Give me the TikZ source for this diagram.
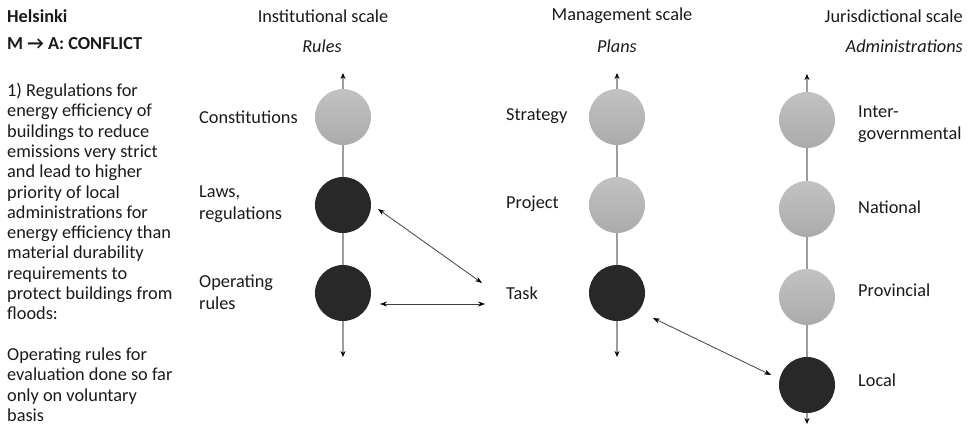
\documentclass[tikz,border=0pt]{standalone}
\usepackage{fontspec}
\setmainfont{Carlito}
\usetikzlibrary{arrows.meta}
\definecolor{lighttop}{HTML}{C2C2C2}
\definecolor{lightbot}{HTML}{ABABAB}
\definecolor{darkc}{HTML}{282828}
\definecolor{linec}{HTML}{9C9C9C}
\definecolor{txt}{HTML}{1A1A1A}
\begin{document}
\begin{tikzpicture}[x=1pt,y=-1pt,
  every node/.style={font=\fontsize{18.3}{22}\selectfont, inner sep=0pt, text=txt},
  lite/.style={circle, minimum size=56pt, top color=lighttop, bottom color=lightbot, draw=none},
  dark/.style={circle, minimum size=56pt, fill=darkc},
  vline/.style={draw=linec, line width=1.2pt},
  vtip/.style={vline, -{Stealth[length=6pt,width=5pt,black]}},
  link/.style={draw=black!75, line width=0.8pt, {Stealth[length=7pt,width=5pt,black]}-{Stealth[length=7pt,width=5pt,black]}},
  lbl/.style={anchor=west, align=left},
  head/.style={anchor=center},
  bold/.style={font=\fontsize{18.3}{22}\selectfont\bfseries},
  ital/.style={font=\fontsize{18.3}{22}\selectfont\itshape},
]
\useasboundingbox (0,0) rectangle (967,428);

% left text
\node[anchor=west, bold] (city) at (7,16) {Helsinki};
\node[anchor=west, bold] (conf) at (7,44) {M → A: CONFLICT};
\node[anchor=north west, align=left, font=\fontsize{18.3}{20.3}\selectfont] (para) at (7,83) {1) Regulations for\\energy efficiency of\\buildings to reduce\\emissions very strict\\and lead to higher\\priority of local\\administrations for\\energy efficiency than\\material durability\\requirements to\\protect buildings from\\floods:\\[20.3pt]Operating rules for\\evaluation done so far\\only on voluntary\\basis};

% headers
\node[head] (h1) at (323,16) {Institutional scale};
\node[head, ital] (s1) at (322,46) {Rules};
\node[head] (h2) at (622,16) {Management scale};
\node[head, ital] (s2) at (617,46) {Plans};
\node[anchor=east] (h3) at (963,16) {Jurisdictional scale};
\node[anchor=east, ital] (s3) at (963,46) {Administrations};

% column 1
\coordinate (t1) at (343,73);
\coordinate (b1) at (343,357);
\node[lite] (c11) at (343,117) {};
\node[dark] (c12) at (343,205) {};
\node[dark] (c13) at (343,293) {};
% column 2
\coordinate (t2) at (617,73);
\coordinate (b2) at (617,357);
\node[lite] (c21) at (617,117) {};
\node[lite] (c22) at (617,205) {};
\node[dark] (c23) at (617,293) {};
% column 3
\coordinate (t3) at (807,74);
\coordinate (b3) at (807,424);
\node[lite] (c31) at (807,120) {};
\node[lite] (c32) at (807,209) {};
\node[lite] (c33) at (807,297) {};
\node[dark] (c34) at (807,385) {};

% vertical lines
\draw[vtip] (c11) -- (t1);
\draw[vline] (c11) -- (c12);
\draw[vline] (c12) -- (c13);
\draw[vtip] (c13) -- (b1);
\draw[vtip] (c21) -- (t2);
\draw[vline] (c21) -- (c22);
\draw[vline] (c22) -- (c23);
\draw[vtip] (c23) -- (b2);
\draw[vtip] (c31) -- (t3);
\draw[vline] (c31) -- (c32);
\draw[vline] (c32) -- (c33);
\draw[vline] (c33) -- (c34);
\draw[vtip] (c34) -- (b3);

% labels
\node[lbl] (l11) at (199,117) {Constitutions};
\node[lbl] (l12) at (199,204) {Laws,\\regulations};
\node[lbl] (l13) at (199,292) {Operating\\rules};
\node[lbl] (l21) at (506,116) {Strategy};
\node[lbl] (l22) at (506,204) {Project};
\node[lbl] (l23) at (506,293) {Task};
\node[lbl] (l31) at (858,124) {Inter-\\governmental};
\node[lbl] (l32) at (858,207) {National};
\node[lbl] (l33) at (858,290) {Provincial};
\node[lbl] (l34) at (858,380) {Local};

% cross-scale links
\coordinate (p1) at (378,209);
\coordinate (q1) at (482,283);
\coordinate (p2) at (380,304);
\coordinate (q2) at (485,304);
\coordinate (p3) at (653,318);
\coordinate (q3) at (771,375);
\draw[link] (p1) -- (q1);
\draw[link] (p2) -- (q2);
\draw[link] (p3) -- (q3);
\end{tikzpicture}
\end{document}
